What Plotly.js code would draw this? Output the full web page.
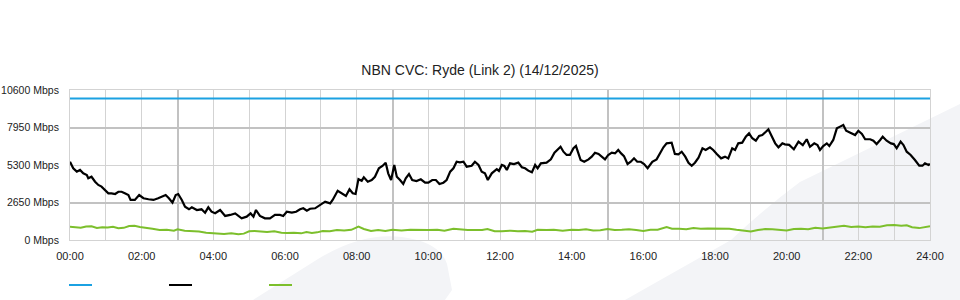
<!DOCTYPE html>
<html><head><meta charset="utf-8">
<script src="https://cdn.plot.ly/plotly-3.0.1.min.js"></script>
<style>html,body{margin:0;padding:0;background:#fff}#chart{width:960px;height:300px}</style>
</head><body><div id="chart"></div>
<script>
// ---- data (hours of day, Mbps) ----
const capacityHours = [0, 24];
const capacityMbps = [10000, 10000];

const trafficHours = [0.00,0.09,0.19,0.28,0.37,0.47,0.51,0.60,0.70,0.79,0.88,0.98,1.07,1.16,1.26,1.35,1.44,1.53,1.63,1.69,1.81,1.93,2.05,2.19,2.33,2.46,2.56,2.67,2.76,2.86,2.95,3.02,3.12,3.21,3.32,3.40,3.54,3.67,3.77,3.86,3.95,4.05,4.19,4.33,4.47,4.61,4.79,4.93,5.04,5.12,5.19,5.30,5.44,5.58,5.72,5.86,5.95,6.05,6.19,6.31,6.42,6.51,6.61,6.70,6.84,6.98,7.12,7.26,7.33,7.47,7.58,7.70,7.80,7.89,7.97,8.05,8.14,8.20,8.31,8.42,8.51,8.62,8.72,8.81,8.88,8.96,9.05,9.12,9.21,9.30,9.37,9.46,9.55,9.67,9.79,9.91,10.00,10.11,10.21,10.31,10.42,10.51,10.61,10.70,10.79,10.88,10.98,11.07,11.21,11.30,11.40,11.49,11.58,11.66,11.77,11.91,11.97,12.05,12.12,12.19,12.28,12.39,12.51,12.61,12.70,12.79,12.89,12.98,13.05,13.14,13.30,13.42,13.52,13.60,13.69,13.77,13.86,13.95,14.05,14.12,14.19,14.25,14.35,14.47,14.56,14.65,14.75,14.84,14.93,15.02,15.12,15.21,15.30,15.38,15.46,15.56,15.65,15.74,15.83,15.93,16.02,16.12,16.25,16.37,16.47,16.56,16.65,16.79,16.88,16.98,17.07,17.17,17.26,17.35,17.44,17.54,17.65,17.74,17.86,17.95,18.05,18.17,18.28,18.37,18.48,18.56,18.65,18.76,18.86,18.95,19.04,19.14,19.23,19.32,19.42,19.49,19.58,19.68,19.77,19.88,19.95,20.07,20.14,20.20,20.33,20.45,20.56,20.65,20.77,20.86,20.93,21.02,21.12,21.19,21.30,21.40,21.49,21.58,21.66,21.77,21.91,22.00,22.10,22.19,22.33,22.42,22.51,22.61,22.68,22.79,22.91,22.99,23.07,23.18,23.26,23.35,23.46,23.58,23.70,23.79,23.86,23.96,24.00];
const trafficMbps = [5530,5070,4830,4950,4710,4590,4360,4470,4120,3890,3770,3480,3300,3300,3250,3410,3410,3300,3180,2830,2830,3180,2950,2880,2830,2950,3060,3180,2950,2640,3180,3250,2830,2350,2170,2310,2120,2170,1930,2310,2000,1890,2120,1700,1770,1880,1530,1650,1880,1650,2120,1700,1530,1530,1770,1770,1700,2000,1930,2000,2170,2240,2070,2210,2240,2470,2710,2590,2830,3480,3300,3110,3580,3300,3250,4300,4190,4430,4120,4240,4470,5070,5230,5460,4710,4240,5300,4470,4240,3960,4360,4660,4240,4170,4290,4050,4050,4240,4240,3960,4050,4240,4830,5070,5530,5490,5530,5180,5250,5530,5300,4830,4710,4240,4710,5000,4880,5300,5230,4950,5420,5370,5470,5140,5070,4900,4780,5300,5070,5420,5470,5700,6170,6360,6590,6240,6010,6010,6480,6640,6130,5650,5530,5700,5890,6170,6080,5890,5700,6010,6170,6120,6360,6120,5930,5370,5530,5770,5530,5530,5370,5070,5530,5700,6130,6550,6830,6880,6080,6060,6240,5890,5460,5250,5460,5820,6480,6360,6550,6360,6080,5770,5890,5770,6480,6360,6830,6880,7300,7540,7190,7020,7350,7420,7650,7820,7350,6830,6550,6830,6760,6720,6550,6410,6950,6710,7120,6590,6830,6710,6360,6640,6830,6640,7070,7890,8010,8130,7720,7580,7420,7720,7490,7120,7120,7020,6780,7070,7300,7020,6830,6780,6480,6950,6710,6240,6010,5650,5250,5250,5420,5300,5370];

const lowHours = [0.00,0.15,0.30,0.45,0.60,0.75,0.90,1.05,1.20,1.35,1.50,1.65,1.80,1.95,2.10,2.30,2.50,2.70,2.90,3.00,3.20,3.40,3.60,3.80,4.00,4.15,4.30,4.50,4.70,4.85,5.00,5.15,5.30,5.50,5.70,5.90,6.05,6.25,6.45,6.60,6.75,6.90,7.05,7.25,7.45,7.65,7.85,8.05,8.20,8.40,8.60,8.80,9.00,9.25,9.50,9.75,10.00,10.25,10.45,10.70,10.90,11.10,11.30,11.50,11.65,11.85,12.05,12.30,12.50,12.70,12.90,13.05,13.30,13.50,13.75,14.00,14.20,14.40,14.60,14.80,15.00,15.20,15.40,15.60,15.80,16.00,16.20,16.40,16.65,16.80,17.00,17.20,17.40,17.60,17.80,18.00,18.20,18.40,18.60,18.80,19.00,19.20,19.40,19.60,19.80,20.00,20.20,20.40,20.60,20.80,21.00,21.20,21.40,21.60,21.80,22.00,22.20,22.40,22.60,22.80,23.00,23.20,23.35,23.50,23.70,23.85,24.00];
const lowMbps = [940,900,860,960,970,850,900,880,940,830,860,990,1000,920,880,800,700,720,660,760,660,640,600,520,480,470,420,470,400,450,620,640,600,560,620,520,500,520,470,560,500,540,640,620,700,680,720,950,780,640,700,640,720,680,720,700,700,720,660,800,740,700,700,700,780,620,620,660,620,640,590,720,700,720,660,720,700,760,680,690,780,700,720,760,700,640,720,720,920,800,790,760,840,800,820,800,780,800,720,640,600,700,780,760,700,680,780,800,760,860,820,880,900,1010,920,950,900,960,940,1040,1060,1000,1040,900,840,900,980];

const yTickVals = [0, 2650, 5300, 7950, 10600];
const yTickText = ['0 Mbps', '2650 Mbps', '5300 Mbps', '7950 Mbps', '10600 Mbps'];
const yMajorVals = [2650, 7950];
const xTickVals = [0,1,2,3,4,5,6,7,8,9,10,11,12,13,14,15,16,17,18,19,20,21,22,23,24];
const xTickText = ['00:00','','02:00','','04:00','','06:00','','08:00','','10:00','','12:00','','14:00','','16:00','','18:00','','20:00','','22:00','','24:00'];
const xMajorVals = [3, 9, 15, 21];
const titleText = 'NBN CVC: Ryde (Link 2) (14/12/2025)';

// ---- layout helpers (pixel -> paper) ----
const L = 70, R = 930, T = 90, B = 240;
const px = x => (x - L) / (R - L);
const py = y => (B - y) / (B - T);
const P = (x, y) => px(x).toFixed(4) + ',' + py(y).toFixed(4);

const FONT = 'Liberation Sans, Arial, sans-serif';
const bgFill = '#f3f4f7';

const traces = [
  {x: capacityHours, y: capacityMbps, type: 'scatter', mode: 'lines',
   line: {color: '#1ba1e2', width: 2}, showlegend: false, hoverinfo: 'skip'},
  {x: lowHours, y: lowMbps, type: 'scatter', mode: 'lines',
   line: {color: '#7cbf2c', width: 2}, showlegend: false, hoverinfo: 'skip'},
  {x: trafficHours, y: trafficMbps, type: 'scatter', mode: 'lines',
   line: {color: '#000000', width: 2.2}, showlegend: false, hoverinfo: 'skip'},
  {x: [], y: [], xaxis: 'x2', yaxis: 'y2', type: 'scatter', showlegend: false}
];

const shapes = [
  {type: 'path', xref: 'paper', yref: 'paper', layer: 'below', fillcolor: bgFill, line: {width: 0},
   path: 'M' + P(253,300) + ' L' + P(318,259) + ' Q' + P(362,232) + ' ' + P(402,237) + ' Q' + P(440,242) + ' ' + P(447,264) + ' L' + P(452,290) + ' L' + P(445,300) + ' Z'},
  {type: 'path', xref: 'paper', yref: 'paper', layer: 'below', fillcolor: bgFill, line: {width: 0},
   path: 'M' + P(625,300) + ' L' + P(731,240) + ' Q' + P(765,208) + ' ' + P(800,182) + ' L' + P(960,104) + ' L' + P(960,300) + ' Z'},
  // legend swatches
  {type: 'line', xref: 'paper', yref: 'paper', x0: px(69), x1: px(92), y0: py(285), y1: py(285), line: {color: '#1ba1e2', width: 2}},
  {type: 'line', xref: 'paper', yref: 'paper', x0: px(169), x1: px(192), y0: py(285), y1: py(285), line: {color: '#000000', width: 2}},
  {type: 'line', xref: 'paper', yref: 'paper', x0: px(269), x1: px(292), y0: py(285), y1: py(285), line: {color: '#7cbf2c', width: 2}}
];

const layout = {
  width: 960, height: 300,
  margin: {l: L, r: 960 - R, t: T, b: 300 - B, pad: 0},
  paper_bgcolor: '#ffffff', plot_bgcolor: 'rgba(0,0,0,0)',
  font: {family: FONT, size: 11, color: '#222'},
  title: {text: titleText, font: {family: FONT, size: 14, color: '#222'},
          x: 0.5, xref: 'container', xanchor: 'center', y: 1 - 70/300, yref: 'container', yanchor: 'middle'},
  showlegend: false,
  xaxis: {range: [0, 24], tickmode: 'array', tickvals: xTickVals, ticktext: xTickText,
          showgrid: true, gridcolor: '#d3d3d3', gridwidth: 1, zeroline: false,
          showline: true, linecolor: '#d3d3d3', linewidth: 1, mirror: true,
          ticks: '', ticklabelstandoff: 6, tickfont: {family: FONT, size: 11, color: '#222'}, fixedrange: true},
  yaxis: {range: [0, 10600], tickmode: 'array', tickvals: yTickVals, ticktext: yTickText,
          showgrid: true, gridcolor: '#d3d3d3', gridwidth: 1, zeroline: false,
          showline: true, linecolor: '#d3d3d3', linewidth: 1, mirror: true,
          ticks: '', ticklabelstandoff: 8, tickfont: {family: FONT, size: 10.5, color: '#222'}, fixedrange: true},
  xaxis2: {overlaying: 'x', anchor: 'y', range: [0, 24], tickmode: 'array', tickvals: xMajorVals,
           showticklabels: false, showgrid: true, gridcolor: '#c2c2c2', gridwidth: 2, zeroline: false, showline: false, ticks: ''},
  yaxis2: {overlaying: 'y', anchor: 'x', range: [0, 10600], tickmode: 'array', tickvals: yMajorVals,
           showticklabels: false, showgrid: true, gridcolor: '#c2c2c2', gridwidth: 2, zeroline: false, showline: false, ticks: ''},
  shapes: shapes
};

Plotly.newPlot('chart', traces, layout, {staticPlot: true, displayModeBar: false});
</script>
</body></html>
